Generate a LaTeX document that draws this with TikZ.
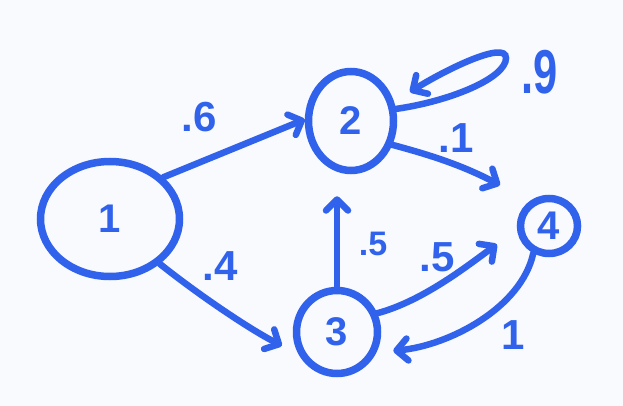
\documentclass[tikz,border=0pt]{standalone}
\usepackage{fontspec}
\setsansfont{Liberation Sans}
\usetikzlibrary{arrows.meta,shapes.geometric}
\definecolor{ink}{RGB}{48,98,236}
\definecolor{paper}{RGB}{248,250,254}
\begin{document}
\begin{tikzpicture}[x=1pt,y=-1pt,
  state/.style={ellipse, draw=ink, line width=7.5pt, inner sep=0pt, text=ink,
    font=\sffamily\bfseries\fontsize{40}{40}\selectfont},
  edge/.style={draw=ink, line width=6.5pt, line cap=round,
    -{Straight Barb[length=11pt,width=22pt,round]}},
  lab/.style={text=ink, inner sep=0pt, font=\sffamily\bfseries\fontsize{42}{42}\selectfont}]
\fill[paper] (0,0) rectangle (623,406);
\useasboundingbox (0,0) rectangle (623,406);

% states
\node[state, minimum width=139pt, minimum height=115pt] (n1) at (110,219) {1};
\node[state, minimum width=85pt, minimum height=99pt] (n2) at (351,121) {2};
\node[state, minimum width=81pt, minimum height=83pt] (n3) at (337,332) {3};
\node[state, minimum width=57pt, minimum height=55pt] (n4) at (549,226) {4};

% free ends
\coordinate (c1) at (500,185);
\coordinate (lp) at (506,58);
\coordinate (lt) at (410,92);

% transitions
\draw[edge] (n1.38) -- (n2.178);
\draw[edge] (n1.-42) .. controls +(35,28) and +(-35,-18) .. ([shift={(-13,0)}]n3.198);
\draw[edge, shorten >=22pt] (n3.north) -- (n3.north |- n2.south);
\draw[edge] (n3.25) .. controls +(45,-12) and +(-30,22) .. ([shift={(-26,0)}]n4.215);
\draw[edge] (n4.240) .. controls +(-12,55) and +(55,-5) .. ([shift={(16,0)}]n3.-25);
\draw[edge] (n2.-30) .. controls +(45,12) and +(-35,-18) .. (c1);
\draw[edge] (n2.15) .. controls +(55,-8) and +(0,20) .. (lp)
  .. controls +(0,-18) and +(35,-22) .. (lt);

% probabilities
\node[lab] (p12) at (199,117) {.6};
\node[lab] (p13) at (220,266) {.4};
\node[lab, font=\sffamily\bfseries\fontsize{34}{34}\selectfont] (p32) at (373,244) {.5};
\node[lab] (p34) at (437,257) {.5};
\node[lab, font=\sffamily\bfseries\fontsize{62}{62}\selectfont] (p22) at (540,72) {\scalebox{0.7}[1]{.9}};
\node[lab] (p2x) at (456,138) {.1};
\node[lab] (p43) at (513,335) {1};
\end{tikzpicture}
\end{document}
